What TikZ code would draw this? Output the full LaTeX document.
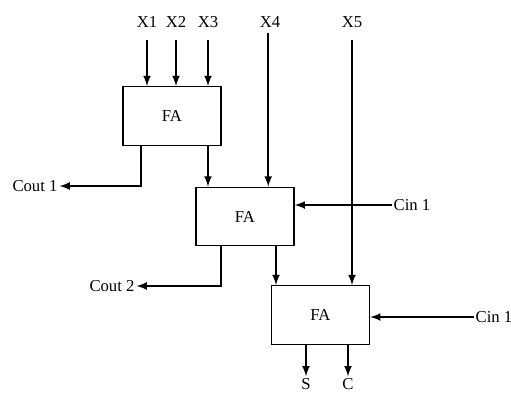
\documentclass[tikz,border=0pt]{standalone}
\usepackage{fontspec}
\setmainfont{Liberation Serif}
\usetikzlibrary{arrows, positioning, calc}

\begin{document}
\begin{tikzpicture}[x=0.02cm, y=-0.02cm, >=latex,
  fabox/.style={rectangle, draw, line width=0.8pt, minimum width=1.96cm, minimum height=1.17cm, font=\fontsize{9.5}{11}\selectfont},
  sig/.style={inner sep=1pt, font=\fontsize{9.5}{11}\selectfont},
  wire/.style={->, line width=1pt}]
\useasboundingbox (0,0) rectangle (511,393);

\node[fabox] (fa1) at (172,116) {FA};
\node[fabox] (fa2) at (245,216.5) {FA};
\node[fabox] (fa3) at (320.5,315) {FA};

\node[sig] (x1) at (147,22) {X1};
\node[sig] (x2) at (176,22) {X2};
\node[sig] (x3) at (208,22) {X3};
\node[sig] (x4) at (270,22) {X4};
\node[sig] (x5) at (352,22) {X5};
\node[sig] (cout1) at (35,186) {Cout 1};
\node[sig] (cout2) at (112,286) {Cout 2};
\node[sig] (cina) at (412,205) {Cin 1};
\node[sig] (cinb) at (494,317) {Cin 1};
\node[sig] (s) at (306,384) {S};
\node[sig] (c) at (348,384) {C};

% inputs
\foreach \n in {x1,x2,x3}
  \draw[wire, shorten <=6pt] (\n) -- (\n |- fa1.north);
\draw[wire, shorten <=6pt] ([xshift=-1pt]x4.center) coordinate (t4) -- (t4 |- fa2.north);
\draw[wire, shorten <=6pt] (x5) -- (x5 |- fa3.north);
\draw[wire] (cina.west) -- (cina.west -| fa2.east);
\draw[wire] (cinb.west) -- (cinb.west -| fa3.east);

% carries and sums between stages
\draw[wire] ([xshift=-0.62cm]fa1.south) |- (cout1.east);
\draw[wire] ([xshift=0.72cm]fa1.south) coordinate (s1) -- (s1 |- fa2.north);
\draw[wire] ([xshift=-0.48cm]fa2.south) |- (cout2.east);
\draw[wire] ([xshift=0.62cm]fa2.south) coordinate (s2) -- (s2 |- fa3.north);

% outputs
\draw[wire] (s |- fa3.south) -- (s.north);
\draw[wire] (c |- fa3.south) -- (c.north);
\end{tikzpicture}
\end{document}
